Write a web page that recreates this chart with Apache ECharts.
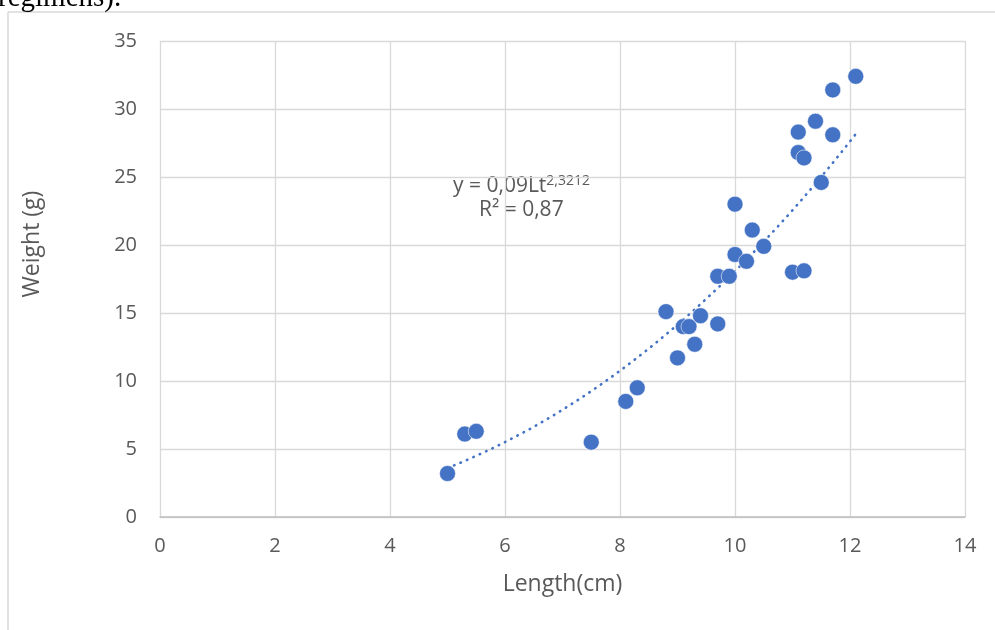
<!DOCTYPE html>
<html>
<head>
<meta charset="utf-8">
<script src="https://cdn.jsdelivr.net/npm/echarts@6/dist/echarts.min.js"></script>
<style>
  html, body { margin: 0; padding: 0; background: #fff; }
  #chart { width: 995px; height: 630px; }
</style>
</head>
<body>
<div id="chart"></div>
<script>
// Data
const lengthCm = [5.0, 5.3, 5.5, 7.5, 8.1, 8.3, 8.8, 9.0, 9.1, 9.2, 9.3, 9.4, 9.7, 9.7, 9.9, 10.0, 10.0, 10.2, 10.3, 10.5, 11.0, 11.2, 11.1, 11.1, 11.2, 11.4, 11.5, 11.7, 11.7, 12.1];
const weightG  = [3.2, 6.1, 6.3, 5.5, 8.5, 9.5, 15.1, 11.7, 14.0, 14.0, 12.7, 14.8, 14.2, 17.7, 17.7, 19.3, 23.0, 18.8, 21.1, 19.9, 18.0, 18.1, 28.3, 26.8, 26.4, 29.1, 24.6, 28.1, 31.4, 32.4];
const xTicks = { min: 0, max: 14, interval: 2 };
const yTicks = { min: 0, max: 35, interval: 5 };
const xTitle = 'Length(cm)';
const yTitle = 'Weight (g)';
const eqLine1 = 'y = 0,09Lt';
const eqExp = '2,3212';
const eqLine2 = 'R² = 0,87';
const topCutText = 'regimens).';

// Power trendline (least squares in log space, as a spreadsheet does)
function powerFit(xs, ys) {
  const n = xs.length;
  let sx = 0, sy = 0, sxx = 0, sxy = 0;
  for (let i = 0; i < n; i++) {
    const lx = Math.log(xs[i]), ly = Math.log(ys[i]);
    sx += lx; sy += ly; sxx += lx * lx; sxy += lx * ly;
  }
  const b = (n * sxy - sx * sy) / (n * sxx - sx * sx);
  const a = Math.exp((sy - b * sx) / n);
  return { a, b };
}
const fit = powerFit(lengthCm, weightG);
const xMin = Math.min(...lengthCm), xMax = Math.max(...lengthCm);
const trend = [];
for (let i = 0; i <= 60; i++) {
  const x = xMin + (xMax - xMin) * i / 60;
  trend.push([x, fit.a * Math.pow(x, fit.b)]);
}

const points = lengthCm.map((x, i) => [x, weightG[i]]);
const FONT = 'Open Sans';
const chart = echarts.init(document.getElementById('chart'));
chart.setOption({
  animation: false,
  backgroundColor: '#fff',
  grid: { left: 160, right: 30, top: 41, bottom: 113 },
  xAxis: {
    type: 'value', min: xTicks.min, max: xTicks.max, interval: xTicks.interval,
    name: xTitle, nameLocation: 'middle', nameGap: 56,
    nameTextStyle: { fontFamily: FONT, fontSize: 23, color: '#595959' },
    axisLine: { show: true, lineStyle: { color: '#bfbfbf', width: 1.5 } },
    axisTick: { show: false },
    axisLabel: { fontFamily: FONT, fontSize: 20, color: '#595959', margin: 19 },
    splitLine: { show: true, lineStyle: { color: '#d9d9d9', width: 1.3 } }
  },
  yAxis: {
    type: 'value', min: yTicks.min, max: yTicks.max, interval: yTicks.interval,
    name: yTitle, nameLocation: 'middle', nameGap: 116, nameRotate: 90,
    nameTextStyle: { fontFamily: FONT, fontSize: 23, color: '#595959', padding: [0, 0, 0, 70] },
    axisLine: { show: false },
    axisTick: { show: false },
    axisLabel: { fontFamily: FONT, fontSize: 20, color: '#595959', margin: 23 },
    splitLine: { show: true, lineStyle: { color: '#d9d9d9', width: 1.3 } }
  },
  series: [
    {
      type: 'line', data: trend, showSymbol: false, silent: true, z: 1,
      lineStyle: { color: '#4472C4', width: 2.6, type: [0.5, 6.5], cap: 'round' }
    },
    {
      type: 'scatter', data: points, symbol: 'circle', symbolSize: 16, z: 2,
      itemStyle: { color: '#4472C4', borderColor: 'rgba(255,255,255,0.7)', borderWidth: 0.8, opacity: 1 }
    }
  ],
  graphic: [
    { type: 'line', shape: { x1: 8, y1: 12, x2: 8, y2: 630 }, style: { stroke: '#d9d9d9', lineWidth: 1.5 } },
    { type: 'line', shape: { x1: 8, y1: 12, x2: 995, y2: 12 }, style: { stroke: '#d9d9d9', lineWidth: 1.5 } },
    { type: 'text', left: -2, top: -16, style: { text: topCutText, font: '29px "Liberation Serif"', fill: '#000' } },
    { type: 'text', x: 453, y: 174, style: {
        text: '{m|' + eqLine1 + '}{s|' + eqExp + '}',
        rich: { m: { fontFamily: FONT, fontSize: 21, fill: '#595959', color: '#595959', verticalAlign: 'bottom' },
                s: { fontFamily: FONT, fontSize: 14, fill: '#595959', color: '#595959', verticalAlign: 'top', padding: [0, 0, 9, 0] } },
        fill: '#595959' } },
    { type: 'text', x: 479, y: 200, style: { text: eqLine2, font: '21px "Open Sans"', fill: '#595959' } }
  ]
});
</script>
</body>
</html>
